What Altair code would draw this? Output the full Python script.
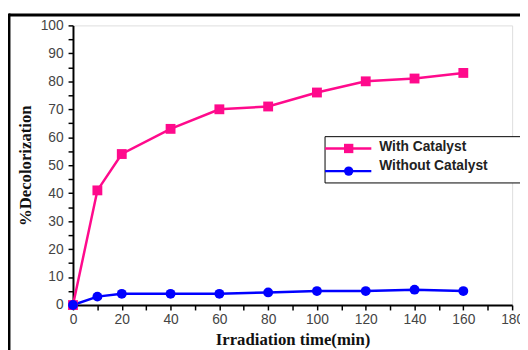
import altair as alt
import pandas as pd

time_min = [0, 10, 20, 40, 60, 80, 100, 120, 140, 160]
with_catalyst = [0, 41, 54, 63, 70, 71, 76, 80, 81, 83]
without_catalyst = [0, 3, 4, 4, 4, 4.5, 5, 5, 5.5, 5]
series_names = ["With Catalyst", "Without Catalyst"]
series_colors = ["#FF0A8C", "#0000FF"]
series_shapes = ["square", "circle"]

rows = []
for t, a, b in zip(time_min, with_catalyst, without_catalyst):
    rows.append({"t": t, "v": a, "s": series_names[0]})
    rows.append({"t": t, "v": b, "s": series_names[1]})
df = pd.DataFrame(rows)

xs = alt.Scale(domain=[0, 180], nice=False)
ys = alt.Scale(domain=[0, 100], nice=False)
col = alt.Scale(domain=series_names, range=series_colors)
shp = alt.Scale(domain=series_names, range=series_shapes)

x_axis = alt.Axis(values=list(range(0, 181, 10)), labelExpr="datum.value % 20 == 0 ? datum.label : ''",
                  title="Irradiation time(min)", titleFont="Liberation Serif", titleFontSize=17,
                  titleFontWeight="bold", titleColor="#111", titlePadding=5,
                  labelFont="Liberation Sans", labelFontSize=14, labelColor="#444", labelPadding=3,
                  labelOverlap=False,
                  tickSize=5, tickColor="black", tickWidth=1.5, domainColor="black", domainWidth=2,
                  grid=False, labelFlush=False)
y_axis = alt.Axis(values=list(range(0, 101, 5)), labelExpr="datum.value % 10 == 0 ? datum.label : ''",
                  title="%Decolorization", titleFont="Liberation Serif", titleFontSize=17,
                  titleFontWeight="bold", titleColor="#111", titlePadding=6,
                  labelFont="Liberation Sans", labelFontSize=14, labelColor="#444", labelPadding=5,
                  labelOverlap=False,
                  tickSize=5, tickColor="black", tickWidth=1.5, domainColor="black", domainWidth=2,
                  grid=False, labelFlush=False)

X = alt.X("t:Q", scale=xs, axis=x_axis)
Y = alt.Y("v:Q", scale=ys, axis=y_axis)

base = alt.Chart(df)
lines = base.mark_line(strokeWidth=2.5, clip=False).encode(
    x=X, y=Y, color=alt.Color("s:N", scale=col, legend=None),
)
points = base.mark_point(filled=True, size=100, opacity=1, clip=False).encode(
    x=X, y=Y,
    color=alt.Color("s:N", scale=col, legend=None),
    shape=alt.Shape("s:N", scale=shp, legend=None),
)

# frame lines of the picture
frame_top = alt.Chart(pd.DataFrame({"a": [0]})).mark_rule(color="black", strokeWidth=3).encode(
    x=alt.value(-65), x2=alt.value(460), y=alt.value(-10.5))
frame_left = alt.Chart(pd.DataFrame({"a": [0]})).mark_rule(color="black", strokeWidth=3).encode(
    x=alt.value(-65), y=alt.value(-12), y2=alt.value(330))

# manual legend
leg_box = alt.Chart(pd.DataFrame({"a": [0]})).mark_rect(fill="white", stroke="black", strokeWidth=1).encode(
    x=alt.value(256), x2=alt.value(470), y=alt.value(113), y2=alt.value(160))
leg_df = pd.DataFrame({"s": series_names, "ly": [125, 148], "ty": [124, 143]})
leg_lines = alt.Chart(leg_df).mark_rule(strokeWidth=2.5).encode(
    x=alt.value(256), x2=alt.value(303), y=alt.Y("ly:Q", scale=None),
    color=alt.Color("s:N", scale=col, legend=None))
leg_pts = alt.Chart(leg_df).mark_point(filled=True, size=90, opacity=1).encode(
    x=alt.value(280), y=alt.Y("ly:Q", scale=None),
    color=alt.Color("s:N", scale=col, legend=None),
    shape=alt.Shape("s:N", scale=shp, legend=None))
leg_txt = alt.Chart(leg_df).mark_text(align="left", baseline="middle", font="Liberation Sans",
                                      fontSize=14, fontWeight="bold", color="#222").encode(
    x=alt.value(311), y=alt.Y("ty:Q", scale=None), text="s:N")

chart = alt.layer(frame_top, frame_left, lines, points, leg_box, leg_lines, leg_pts, leg_txt).properties(
    width=446, height=284,
    autosize=alt.AutoSizeParams(type="none"),
    padding={"left": 66, "top": 15, "right": 8, "bottom": 43},
).configure_view(stroke=None).configure(background="white")

chart.save("out.html", embed_options={"renderer": "svg", "actions": False})
